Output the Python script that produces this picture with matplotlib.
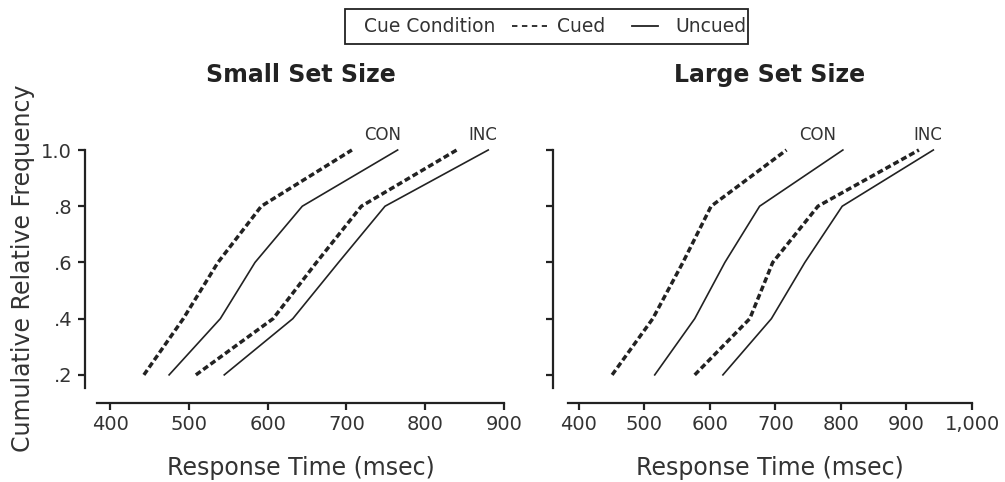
import matplotlib
matplotlib.use("Agg")
import matplotlib.pyplot as plt
from matplotlib.lines import Line2D
from matplotlib.patches import Rectangle

plt.rcParams['font.family'] = ['DejaVu Sans']

INK = '#222222'
TXT = '#333333'

# cumulative relative frequency levels
freq = [0.2, 0.4, 0.6, 0.8, 1.0]

# response times (msec), small set size
small_cued_con = [443, 493, 537, 592, 707]
small_uncued_con = [475, 540, 584, 644, 765]
small_cued_inc = [509, 607, 662, 719, 840]
small_uncued_inc = [545, 632, 690, 749, 880]

# response times (msec), large set size
large_cued_con = [451, 513, 559, 602, 717]
large_uncued_con = [516, 577, 623, 676, 803]
large_cued_inc = [577, 661, 696, 765, 919]
large_uncued_inc = [620, 694, 745, 802, 941]

titles = ["Small Set Size", "Large Set Size"]
xticks = [[400, 500, 600, 700, 800, 900], [400, 500, 600, 700, 800, 900, 1000]]
xtick_labels = [["400", "500", "600", "700", "800", "900"],
                ["400", "500", "600", "700", "800", "900", "1,000"]]
yticks = [0.2, 0.4, 0.6, 0.8, 1.0]
ytick_labels = [".2", ".4", ".6", ".8", "1.0"]
con_label_x = [746, 764]
inc_label_x = [873, 932]

W, H = 1005, 482
fig = plt.figure(figsize=(W / 100, H / 100), dpi=100)

def px_axes(x0, x1, ytop, ybot):
    return fig.add_axes([x0 / W, 1 - ybot / H, (x1 - x0) / W, (ybot - ytop) / H])

ax1 = px_axes(97, 504, 150, 403)
ax2 = px_axes(568, 972, 150, 403)

dash = (0, (1.7, 0.9))
panels = [
    (ax1, small_cued_con, small_uncued_con, small_cued_inc, small_uncued_inc, (383.5, 900), 9),
    (ax2, large_cued_con, large_uncued_con, large_cued_inc, large_uncued_inc, (383.7, 1000), 11),
]

for i, (ax, cc, uc, ci, ui, xlim, yoff) in enumerate(panels):
    for xs in (cc, ci):
        ax.plot(xs, freq, color=INK, lw=2.5, linestyle=dash, clip_on=False)
    for xs in (uc, ui):
        ax.plot(xs, freq, color=INK, lw=1.2, clip_on=False)
    ax.text(con_label_x[i], 1.053, "CON", ha='center', va='center', fontsize=12, color=TXT)
    ax.text(inc_label_x[i], 1.053, "INC", ha='center', va='center', fontsize=12, color=TXT)

    ax.set_xlim(*xlim)
    ax.set_ylim(0.1, 1.0)
    ax.set_xticks(xticks[i])
    ax.set_xticklabels(xtick_labels[i])
    ax.set_yticks(yticks)
    if i == 0:
        ax.set_yticklabels(ytick_labels)
    else:
        ax.set_yticklabels([])
    ax.spines['top'].set_visible(False)
    ax.spines['right'].set_visible(False)
    ax.spines['left'].set_position(('outward', yoff))
    ax.spines['left'].set_bounds(0.154, 1.0)
    for s in ('left', 'bottom'):
        ax.spines[s].set_linewidth(1.6)
        ax.spines[s].set_color(INK)
    ax.tick_params(axis='both', direction='out', length=5, width=1.6, color=INK,
                   labelsize=14, labelcolor=TXT, pad=4)
    ax.set_xlabel("Response Time (msec)", fontsize=17, color=TXT, va='center')
    ax.xaxis.set_label_coords(0.5, -65 / 253)
    ax.set_title(titles[i], fontsize=17, fontweight='bold', color=INK, va='center',
                 y=1 + 67 / 253)
    ax.patch.set_visible(False)

fig.text(23 / W, 1 - 268 / H, "Cumulative Relative Frequency", rotation=90,
         ha='center', va='center', fontsize=17, color=TXT)

# legend box drawn by hand
fig.add_artist(Rectangle((345 / W, 1 - 44 / H), (748 - 345) / W, 35 / H,
                         transform=fig.transFigure, fill=False, ec=INK, lw=1.3))
ly = 1 - 26 / H
fig.text(364 / W, ly, "Cue Condition", ha='left', va='center', fontsize=13.5, color=TXT)
fig.add_artist(Line2D([512 / W, 547 / W], [ly, ly], transform=fig.transFigure,
                      color=INK, lw=1.3, linestyle=(0, (3, 2.5))))
fig.text(557 / W, ly, "Cued", ha='left', va='center', fontsize=13.5, color=TXT)
fig.add_artist(Line2D([632 / W, 658 / W], [ly, ly], transform=fig.transFigure,
                      color=INK, lw=1.3))
fig.text(675 / W, ly, "Uncued", ha='left', va='center', fontsize=13.5, color=TXT)

fig.savefig("out.png", dpi=100)
